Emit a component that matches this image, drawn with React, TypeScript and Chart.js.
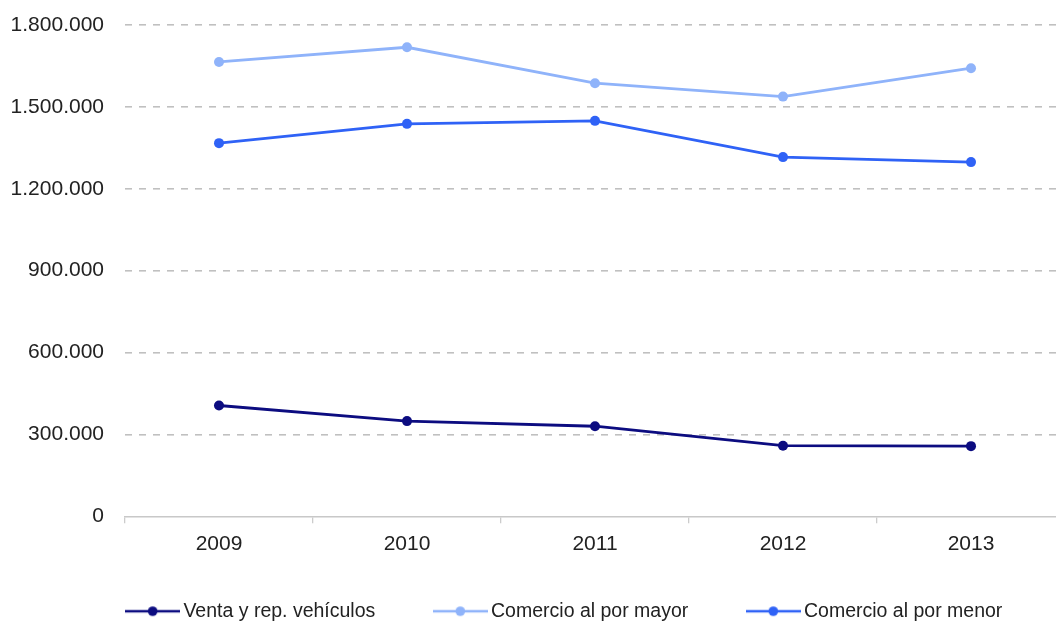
import React, { useEffect, useRef } from "react";
import { Chart, registerables } from "chart.js";

Chart.register(...registerables);

const categories = ["2009", "2010", "2011", "2012", "2013"];
const ventaRep = [406000, 348700, 330000, 258700, 257000];
const comercioMayor = [1664600, 1718400, 1586700, 1537700, 1641600];
const comercioMenor = [1367200, 1437800, 1448800, 1316000, 1297700];
const seriesNames = ["Venta y rep. vehículos", "Comercio al por mayor", "Comercio al por menor"];
const seriesColors = ["#0c0c80", "#8fb3fa", "#2f62f6"];
const yTicks = [0, 300000, 600000, 900000, 1200000, 1500000, 1800000];

const fmt = (v: number) => String(Math.round(v)).replace(/\B(?=(\d{3})+(?!\d))/g, ".");

const FONT = "'Liberation Sans', Arial, sans-serif";

function legendImage(color: string) {
  const c = document.createElement("canvas");
  c.width = 55;
  c.height = 12;
  const ctx = c.getContext("2d")!;
  ctx.strokeStyle = color;
  ctx.lineWidth = 2.6;
  ctx.beginPath();
  ctx.moveTo(0, 6);
  ctx.lineTo(55, 6);
  ctx.stroke();
  ctx.fillStyle = color;
  ctx.beginPath();
  ctx.arc(27.5, 6, 4.8, 0, Math.PI * 2);
  ctx.fill();
  return c;
}

const shiftLegend = {
  id: "shiftLegend",
  afterLayout(chart: any) {
    const l = chart.legend;
    if (l) {
      l.top -= 27;
      l.bottom -= 27;
    }
  },
};

export default function App() {
  const ref = useRef<HTMLCanvasElement>(null);
  useEffect(() => {
    if (!ref.current) return;
    const images = seriesColors.map(legendImage);
    const values = [ventaRep, comercioMayor, comercioMenor];
    const chart = new Chart(ref.current, {
      type: "line",
      data: {
        labels: categories,
        datasets: values.map((d, i) => ({
          label: seriesNames[i],
          data: d,
          borderColor: seriesColors[i],
          backgroundColor: seriesColors[i],
          pointBackgroundColor: seriesColors[i],
          pointBorderWidth: 0,
          pointRadius: 5,
          borderWidth: 2.8,
          tension: 0,
          yAxisID: "y",
        })),
      },
      plugins: [shiftLegend],
      options: {
        animation: false,
        responsive: true,
        maintainAspectRatio: false,
        layout: { padding: { top: 25, left: 0, right: 0, bottom: 0 } },
        plugins: {
          tooltip: { enabled: false },
          legend: {
            position: "bottom",
            labels: {
              usePointStyle: true,
              pointStyleWidth: 42,
              padding: 64,
              color: "#222222",
              font: { family: FONT, size: 19.5 },
              generateLabels: (ch: any) => {
                const items = Chart.defaults.plugins.legend.labels.generateLabels(ch);
                return items.map((it: any, i: number) => ({ ...it, pointStyle: images[i] }));
              },
            },
          },
        },
        scales: {
          x: {
            type: "category",
            offset: true,
            grid: {
              offset: true,
              drawOnChartArea: false,
              drawTicks: true,
              tickLength: 7,
              color: "#cccccc",
              lineWidth: 1.3,
            },
            border: { display: true, color: "#c8c8c8", width: 1.5 },
            ticks: {
              padding: 8,
              color: "#222222",
              font: { family: FONT, size: 21 },
            },
          },
          y: {
            position: "left",
            min: 0,
            max: 1800000,
            afterBuildTicks: (s: any) => {
              s.ticks = yTicks.map((v) => ({ value: v }));
            },
            grid: {
              drawTicks: true,
              tickLength: 21,
              tickColor: "rgba(0,0,0,0)",
              color: (ctx: any) => (ctx.tick && ctx.tick.value === 0 ? "rgba(0,0,0,0)" : "#c0c0c0"),
              lineWidth: 1.6,
            },
            border: { display: false, dash: [7, 7] },
            ticks: {
              padding: 0,
              color: "#222222",
              font: { family: FONT, size: 21 },
              callback: (v: any) => fmt(Number(v)),
            },
            afterFit: (s: any) => {
              s.width = 125;
            },
          },
          y2: {
            position: "right",
            display: true,
            grid: { display: false, drawTicks: false },
            border: { display: false },
            ticks: { display: false, padding: 0 },
            afterFit: (s: any) => {
              s.width = 69;
            },
          },
        },
      },
    } as any);
    return () => chart.destroy();
  }, []);
  return (
    <div style={{ position: "fixed", left: 0, top: 0, width: 1056, height: 623, overflow: "hidden", background: "#fff" }}>
      <div style={{ position: "relative", width: 1134, height: 658 }}>
        <canvas ref={ref} />
      </div>
    </div>
  );
}
